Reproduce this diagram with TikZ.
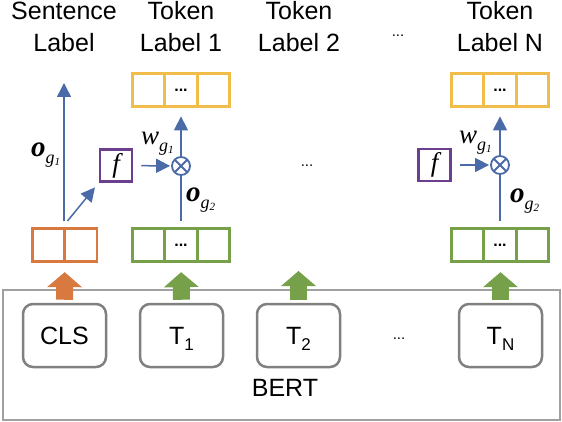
\documentclass[tikz,border=0pt]{standalone}
\usepackage{fontspec}
\setmainfont{Liberation Sans}
\newfontfamily\serifit{Liberation Serif}
\usetikzlibrary{arrows.meta,calc}
\definecolor{cOr}{HTML}{D8793F}
\definecolor{cGr}{HTML}{76A04A}
\definecolor{cYe}{HTML}{F0BC4A}
\definecolor{cPu}{HTML}{6B3E8E}
\definecolor{cBl}{HTML}{4A6BA8}
\definecolor{cGy}{HTML}{808080}
\definecolor{cGyL}{HTML}{A0A0A0}
\newcommand{\subg}[1]{\raisebox{-7pt}{\fontsize{18}{18}\selectfont\itshape g\raisebox{-2pt}{\fontsize{11}{11}\selectfont #1}}}
\newcommand{\ovar}[1]{{\serifit\fontsize{29}{29}\selectfont\bfseries\itshape o\mdseries\subg{#1}}}
\newcommand{\wvar}[1]{{\serifit\fontsize{27}{27}\selectfont\itshape w\subg{#1}}}
\newcommand{\tsub}[2]{#1\raisebox{-6pt}[0pt][0pt]{\fontsize{17}{17}\selectfont #2}}
\begin{document}
\begin{tikzpicture}[x=1pt,y=-1pt,
  lbl/.style={font=\fontsize{25}{32}\selectfont, align=center, inner sep=0pt},
  txt/.style={font=\fontsize{25}{30}\selectfont, inner sep=0pt},
  dotsn/.style={font=\fontsize{15}{15}\selectfont, inner sep=0pt},
  bert/.style={draw=cGyL, line width=2.5pt, minimum width=557pt, minimum height=130pt, inner sep=0pt},
  tok/.style={draw=cGy, line width=2.5pt, rounded corners=10pt, minimum width=83pt, minimum height=63pt, inner sep=0pt, font=\fontsize{25}{30}\selectfont},
  cellbox/.style={line width=2.8pt, minimum height=33pt, inner sep=0pt, font=\fontsize{16}{16}\selectfont\bfseries},
  obox/.style={cellbox, draw=cOr, minimum width=64.5pt},
  gbox/.style={cellbox, draw=cGr, minimum width=97pt},
  ybox/.style={cellbox, draw=cYe, minimum width=97pt},
  fbox/.style={draw=cPu, line width=2.5pt, minimum size=32pt, inner sep=0pt, font=\serifit\itshape\fontsize{27}{27}\selectfont},
  otim/.style={circle, draw=cBl, line width=1.8pt, minimum size=18pt, inner sep=0pt,
    path picture={\draw[cBl, line width=1.8pt] (path picture bounding box.north west) -- (path picture bounding box.south east)
      (path picture bounding box.north east) -- (path picture bounding box.south west);}},
  bl/.style={draw=cBl, line width=1.5pt},
  tip/.style={-{Triangle[length=14pt,width=14pt]}},
  fat/.style={line width=17pt, -{Triangle[length=15pt,width=34pt]}, shorten <=3pt, shorten >=9pt},
  mlbl/.style={inner sep=0pt, anchor=base west}
]
\useasboundingbox (0,0) rectangle (562,422);

% labels
\node[lbl, anchor=south] (sl) at (64,52) {Sentence\\Label};
\node[lbl, anchor=south] (tl1) at (181,52) {Token\\Label 1};
\node[lbl, anchor=south] (tl2) at (299,52) {Token\\Label 2};
\node[dotsn] (ldots) at (398,36) {...};
\node[lbl, anchor=south] (tln) at (500,52) {Token\\Label N};

% BERT
\node[bert] (bert) at (281.5,355) {};
\node[txt] (bertl) at (285,388) {BERT};
\node[tok] (cls) at (64.5,335.5) {CLS};
\node[tok] (t1) at (181.5,335.5) {\tsub{T}{1}};
\node[tok] (t2) at (298.5,335.5) {\tsub{T}{2}};
\node[dotsn] (bdots) at (399,338.5) {...};
\node[tok] (tn) at (500.5,335.5) {\tsub{T}{N}};

% cell boxes
\node[obox] (orng) at (64.75,245.25) {};
\draw[cOr, line width=2.8pt] (orng.north) -- (orng.south);
\node[gbox] (g1) at (181,245.25) {...};
\node[gbox] (gn) at (500,245.25) {...};
\node[ybox] (y1) at (181,90) {...};
\node[ybox] (yn) at (500,90) {...};
\foreach \b/\c in {g1/cGr,gn/cGr,y1/cYe,yn/cYe}{
  \draw[\c, line width=2.8pt] ($(\b.north west)!1/3!(\b.north east)$) -- ($(\b.south west)!1/3!(\b.south east)$);
  \draw[\c, line width=2.8pt] ($(\b.north west)!2/3!(\b.north east)$) -- ($(\b.south west)!2/3!(\b.south east)$);
}

% fat arrows
\coordinate (t2h) at (298.5,262);
\draw[fat, draw=cOr, fill=cOr] (cls.north) -- (orng.south);
\draw[fat, draw=cGr, fill=cGr] (t1.north) -- (g1.south);
\draw[fat, draw=cGr, fill=cGr] (t2.north) -- (t2h);
\draw[fat, draw=cGr, fill=cGr] (tn.north) -- (tn.north |- gn.south);

% sentence branch
\coordinate (vs) at (64,221);
\coordinate (ds) at (67.5,221);
\node[fbox] (f1) at (116,165.5) {f};
\draw[bl, tip, shorten >=31pt] (vs) -- (sl.south);
\draw[bl, tip, shorten >=6pt] (ds) -- (f1.south west);
\node[mlbl] (og1) at (31,157) {\ovar{1}};

% token 1 branch
\node[otim] (ot1) at (181,166) {};
\draw[bl, shorten <=6.5pt] (g1.north) -- (ot1);
\draw[bl, tip, shorten >=8.5pt] (ot1) -- (y1.south);
\draw[bl, tip, shorten <=8pt, shorten >=1pt] (f1) -- (ot1);
\node[mlbl] (w1) at (141,145) {\wvar{1}};
\node[mlbl] (o2a) at (186,202) {\ovar{2}};

\node[dotsn] (mdots) at (307,166) {...};

% token N branch
\node[fbox] (fn) at (434.5,165) {f};
\node[otim] (otn) at (500,165) {};
\draw[bl, shorten <=6.5pt] (gn.north) -- (otn);
\draw[bl, tip, shorten >=8.5pt] (otn) -- (yn.south);
\draw[bl, tip, shorten <=8pt, shorten >=1pt] (fn) -- (otn);
\node[mlbl] (wn) at (459,144) {\wvar{1}};
\node[mlbl] (o2b) at (510,203) {\ovar{2}};
\end{tikzpicture}
\end{document}
